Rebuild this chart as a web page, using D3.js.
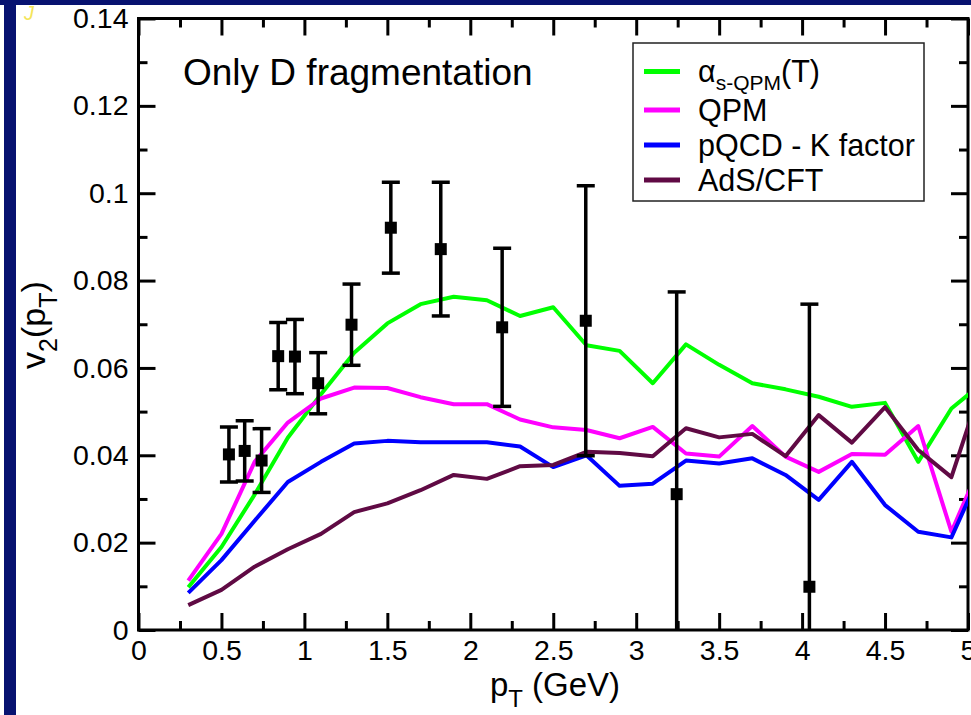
<!DOCTYPE html>
<html>
<head>
<meta charset="utf-8">
<script src="https://cdn.jsdelivr.net/npm/d3@7"></script>
<style>
  html, body { margin: 0; padding: 0; background: #fff; overflow: hidden; }
  svg { display: block; font-family: "Liberation Sans", Arial, Helvetica, sans-serif; }
</style>
</head>
<body>
<script>
// theory curves share one pT grid
const ptGrid = [0.3, 0.5, 0.7, 0.9, 1.1, 1.3, 1.5, 1.7, 1.9, 2.1, 2.3, 2.5, 2.7,
                2.9, 3.1, 3.3, 3.5, 3.7, 3.9, 4.1, 4.3, 4.5, 4.7, 4.9, 5.1];

const alphaQPM = [0.0098, 0.019, 0.031, 0.044, 0.054, 0.0635, 0.0702, 0.0746, 0.0763, 0.0755, 0.0719, 0.0739, 0.0652,
                  0.0639, 0.0565, 0.0654, 0.0607, 0.0565, 0.0551, 0.0534, 0.0511, 0.052, 0.0385, 0.0507, 0.057];
const qpm = [0.0113, 0.022, 0.0385, 0.0475, 0.053, 0.0555, 0.0554, 0.0533, 0.0517, 0.0517, 0.0482, 0.0464, 0.0458,
             0.0439, 0.0465, 0.0404, 0.0397, 0.0467, 0.0397, 0.0362, 0.0403, 0.0401, 0.0467, 0.0225, 0.04];
const pqcdK = [0.0085, 0.016, 0.025, 0.0339, 0.0385, 0.0427, 0.0433, 0.043, 0.043, 0.043, 0.042, 0.0373, 0.040,
               0.033, 0.0335, 0.0388, 0.0381, 0.0393, 0.0355, 0.0298, 0.0385, 0.0286, 0.0225, 0.0212, 0.038];
const adsCft = [0.0057, 0.0092, 0.0145, 0.0185, 0.022, 0.027, 0.029, 0.032, 0.0355, 0.0346, 0.0375, 0.0378, 0.0408,
                0.0405, 0.0398, 0.0462, 0.0441, 0.0449, 0.0398, 0.0492, 0.0429, 0.051, 0.0412, 0.035, 0.058];

// measured D meson points
const dataPt  = [0.545, 0.64, 0.742, 0.842, 0.943, 1.083, 1.284, 1.521, 1.822, 2.192, 2.696, 3.244, 4.044];
const dataV2  = [0.0402, 0.041, 0.0388, 0.0627, 0.0626, 0.0565, 0.0699, 0.0921, 0.0872, 0.0693, 0.0708, 0.0311, 0.0099];
const dataErr = [0.0063, 0.0069, 0.0073, 0.0077, 0.0085, 0.007, 0.0093, 0.0104, 0.0153, 0.0181, 0.0309, 0.0463, 0.0647];

const xTicks = [0, 0.5, 1, 1.5, 2, 2.5, 3, 3.5, 4, 4.5, 5];
const xMinor = [0.25, 0.75, 1.25, 1.75, 2.25, 2.75, 3.25, 3.75, 4.25, 4.75];
const yTicks = [0, 0.02, 0.04, 0.06, 0.08, 0.1, 0.12, 0.14];
const yMinor = [0.01, 0.03, 0.05, 0.07, 0.09, 0.11, 0.13];

const seriesNames = ["alpha", "QPM", "pQCD - K factor", "AdS/CFT"];
const seriesColors = ["#00ff00", "#ff00ff", "#0000ff", "#600a44"];

const width = 971, height = 715;
const plotLeft = 138.5, plotRight = 968, plotTop = 18.5, plotBottom = 630;

const svg = d3.select("body").append("svg")
    .attr("width", width)
    .attr("height", height);

// slide frame
svg.append("rect").attr("x", 0).attr("y", 0).attr("width", width).attr("height", 5).attr("fill", "#071270");
svg.append("rect").attr("x", 4).attr("y", 0).attr("width", 12).attr("height", height).attr("fill", "#071270");
svg.append("text")
    .attr("x", 24).attr("y", 20)
    .attr("fill", "#f4e55a")
    .attr("font-size", 20)
    .attr("font-style", "italic")
    .text("J");

const x = d3.scaleLinear().domain([0, 5]).range([plotLeft, plotRight]);
const y = d3.scaleLinear().domain([0, 0.14]).range([plotBottom, plotTop]);

svg.append("defs").append("clipPath").attr("id", "plot")
  .append("rect")
    .attr("x", plotLeft).attr("y", plotTop)
    .attr("width", plotRight - plotLeft).attr("height", plotBottom - plotTop);

const fmt = d => d === 0 ? "0" : String(+d.toFixed(2));

// axes with inward ticks on all four sides
function styleAxis(g) {
  g.select(".domain").remove();
  g.selectAll(".tick line").attr("stroke", "#000").attr("stroke-width", 3);
  g.selectAll(".tick text").attr("fill", "#000").attr("font-size", 28.5);
}

svg.append("g")
    .attr("transform", `translate(0,${plotBottom})`)
    .call(d3.axisBottom(x).tickValues(xTicks).tickFormat(fmt).tickSizeInner(-17).tickSizeOuter(0).tickPadding(10))
    .call(styleAxis);
svg.append("g")
    .attr("transform", `translate(0,${plotBottom})`)
    .call(d3.axisBottom(x).tickValues(xMinor).tickFormat("").tickSizeInner(-9).tickSizeOuter(0))
    .call(styleAxis);
svg.append("g")
    .attr("transform", `translate(0,${plotTop})`)
    .call(d3.axisTop(x).tickValues(xTicks).tickFormat("").tickSizeInner(-17).tickSizeOuter(0))
    .call(styleAxis);
svg.append("g")
    .attr("transform", `translate(0,${plotTop})`)
    .call(d3.axisTop(x).tickValues(xMinor).tickFormat("").tickSizeInner(-9).tickSizeOuter(0))
    .call(styleAxis);

svg.append("g")
    .attr("transform", `translate(${plotLeft},0)`)
    .call(d3.axisLeft(y).tickValues(yTicks).tickFormat(fmt).tickSizeInner(-17).tickSizeOuter(0).tickPadding(10))
    .call(styleAxis);
svg.append("g")
    .attr("transform", `translate(${plotLeft},0)`)
    .call(d3.axisLeft(y).tickValues(yMinor).tickFormat("").tickSizeInner(-9).tickSizeOuter(0))
    .call(styleAxis);
svg.append("g")
    .attr("transform", `translate(${plotRight},0)`)
    .call(d3.axisRight(y).tickValues(yTicks).tickFormat("").tickSizeInner(-17).tickSizeOuter(0))
    .call(styleAxis);
svg.append("g")
    .attr("transform", `translate(${plotRight},0)`)
    .call(d3.axisRight(y).tickValues(yMinor).tickFormat("").tickSizeInner(-9).tickSizeOuter(0))
    .call(styleAxis);

// frame
svg.append("rect")
    .attr("x", plotLeft).attr("y", plotTop)
    .attr("width", plotRight - plotLeft).attr("height", plotBottom - plotTop)
    .attr("fill", "none")
    .attr("stroke", "#000")
    .attr("stroke-width", 3);

// theory curves
const line = d3.line()
    .x(d => x(d[0]))
    .y(d => y(d[1]));

const curves = [alphaQPM, qpm, pqcdK, adsCft];

svg.append("g")
    .attr("clip-path", "url(#plot)")
  .selectAll("path")
  .data(curves)
  .join("path")
    .attr("d", vals => line(ptGrid.map((p, i) => [p, vals[i]])))
    .attr("fill", "none")
    .attr("stroke", (d, i) => seriesColors[i])
    .attr("stroke-width", 4)
    .attr("stroke-linejoin", "round");

// data points with error bars
const points = dataPt.map((p, i) => ({pt: p, v2: dataV2[i], err: dataErr[i]}));

const pg = svg.append("g")
    .attr("clip-path", "url(#plot)")
  .selectAll("g")
  .data(points)
  .join("g");

pg.append("line")
    .attr("x1", d => x(d.pt)).attr("x2", d => x(d.pt))
    .attr("y1", d => y(d.v2 - d.err)).attr("y2", d => y(d.v2 + d.err))
    .attr("stroke", "#000").attr("stroke-width", 3.5);
pg.selectAll(".cap")
  .data(d => [d.v2 - d.err, d.v2 + d.err].map(v => ({pt: d.pt, v})))
  .join("line")
    .attr("class", "cap")
    .attr("x1", d => x(d.pt) - 9).attr("x2", d => x(d.pt) + 9)
    .attr("y1", d => y(d.v)).attr("y2", d => y(d.v))
    .attr("stroke", "#000").attr("stroke-width", 3.5);
pg.append("rect")
    .attr("x", d => x(d.pt) - 6).attr("y", d => y(d.v2) - 6)
    .attr("width", 12).attr("height", 12)
    .attr("fill", "#000");

// annotation
svg.append("text")
    .attr("x", 183).attr("y", 85)
    .attr("font-size", 37)
    .text("Only D fragmentation");

// legend
const legend = svg.append("g");
legend.append("rect")
    .attr("x", 633).attr("y", 43)
    .attr("width", 291).attr("height", 158)
    .attr("fill", "#fff")
    .attr("stroke", "#222")
    .attr("stroke-width", 1.5);

const rows = legend.selectAll("g")
  .data(seriesNames)
  .join("g")
    .attr("transform", (d, i) => `translate(644,${[82, 120.5, 155.5, 190.5][i]})`);

rows.append("line")
    .attr("x1", 0).attr("x2", 36)
    .attr("y1", -10.5).attr("y2", -10.5)
    .attr("stroke", (d, i) => seriesColors[i])
    .attr("stroke-width", 5);

rows.append("text")
    .attr("x", 54)
    .attr("font-size", 30.5)
    .each(function(d, i) {
      const t = d3.select(this);
      if (i === 0) {
        t.append("tspan").text("\u03b1");
        t.append("tspan").attr("dy", 8).attr("font-size", 21).text("s-QPM");
        t.append("tspan").attr("dy", -8).text("(T)");
      } else {
        t.text(d);
      }
    });

// axis titles
const xTitle = svg.append("text")
    .attr("x", 555).attr("y", 696)
    .attr("text-anchor", "middle")
    .attr("font-size", 33);
xTitle.append("tspan").text("p");
xTitle.append("tspan").attr("dy", 11).attr("font-size", 24).text("T");
xTitle.append("tspan").attr("dy", -11).text(" (GeV)");

const yTitle = svg.append("text")
    .attr("transform", "translate(45,325) rotate(-90)")
    .attr("text-anchor", "middle")
    .attr("font-size", 34);
yTitle.append("tspan").text("v");
yTitle.append("tspan").attr("dy", 12).attr("font-size", 25).text("2");
yTitle.append("tspan").attr("dy", -12).text("(p");
yTitle.append("tspan").attr("dy", 12).attr("font-size", 25).text("T");
yTitle.append("tspan").attr("dy", -12).text(")");
</script>
</body>
</html>
